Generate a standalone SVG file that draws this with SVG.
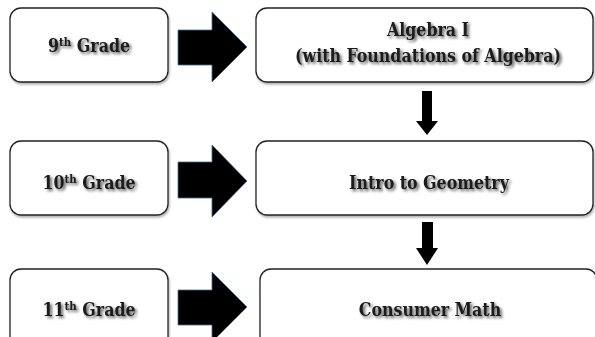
<svg xmlns="http://www.w3.org/2000/svg" width="595" height="337" viewBox="0 0 595 337">
<defs>
<filter id="ts" x="-10%" y="-30%" width="130%" height="180%">
<feGaussianBlur in="SourceAlpha" stdDeviation="1.4"/>
<feOffset dx="1.5" dy="2" result="b"/>
<feComponentTransfer><feFuncA type="linear" slope="0.65"/></feComponentTransfer>
<feMerge><feMergeNode/><feMergeNode in="SourceGraphic"/></feMerge>
</filter>
<filter id="bs" x="-5%" y="-10%" width="115%" height="130%">
<feGaussianBlur in="SourceAlpha" stdDeviation="1"/>
<feOffset dx="1" dy="1.5"/>
<feComponentTransfer><feFuncA type="linear" slope="0.3"/></feComponentTransfer>
<feMerge><feMergeNode/><feMergeNode in="SourceGraphic"/></feMerge>
</filter>
</defs>
<style>
.box{fill:#fff;stroke:#222;stroke-width:1.3}
.t{font-family:"DejaVu Serif Condensed","DejaVu Serif","Liberation Serif",serif;font-stretch:condensed;font-weight:bold;font-size:17.6px;fill:#1a1a1a;text-anchor:middle}
.sup{font-size:11.5px}
.arr{fill:#000;stroke:#4a6a90;stroke-width:0.8;stroke-linejoin:miter}
.darr{fill:#000}
</style>
<g id="grade9" filter="url(#bs)">
<rect class="box" x="10" y="8" width="158" height="74" rx="11"/>
<text class="t" x="89" y="52" filter="url(#ts)">9<tspan class="sup" dy="-6">th</tspan><tspan dy="6"> Grade</tspan></text>
</g>
<g id="algebra" filter="url(#bs)">
<rect class="box" x="256" y="8" width="337" height="74" rx="11"/>
<text class="t" x="428" y="36" filter="url(#ts)">Algebra I</text>
<text class="t" x="428" y="62" filter="url(#ts)">(with Foundations of Algebra)</text>
</g>
<g id="grade10" filter="url(#bs)">
<rect class="box" x="10" y="141" width="158" height="74" rx="11"/>
<text class="t" x="89" y="189" filter="url(#ts)">10<tspan class="sup" dy="-6">th</tspan><tspan dy="6"> Grade</tspan></text>
</g>
<g id="geometry" filter="url(#bs)">
<rect class="box" x="256" y="141" width="337" height="74" rx="11"/>
<text class="t" x="429" y="189" filter="url(#ts)">Intro to Geometry</text>
</g>
<g id="grade11" filter="url(#bs)">
<rect class="box" x="10" y="269" width="158" height="80" rx="11"/>
<text class="t" x="89" y="316" filter="url(#ts)">11<tspan class="sup" dy="-6">th</tspan><tspan dy="6"> Grade</tspan></text>
</g>
<g id="consumer" filter="url(#bs)">
<rect class="box" x="260" y="269" width="337" height="80" rx="11"/>
<text class="t" x="430" y="316" filter="url(#ts)">Consumer Math</text>
</g>
<g id="connectors">
<polygon class="arr" points="178,30 212,30 212,12 247,47 212,82 212,65 178,65"/>
<polygon class="arr" points="178,162 212,162 212,145 247,181 212,217 212,198 178,198"/>
<polygon class="arr" points="178,290 212,290 212,272 247,307 212,342 212,325 178,325"/>
<polygon class="darr" points="422,91 432,91 432,121 438,121 427,135 416,121 422,121"/>
<polygon class="darr" points="422,222 433,222 433,248 438,248 427,265 416,248 422,248"/>
</g>
</svg>
